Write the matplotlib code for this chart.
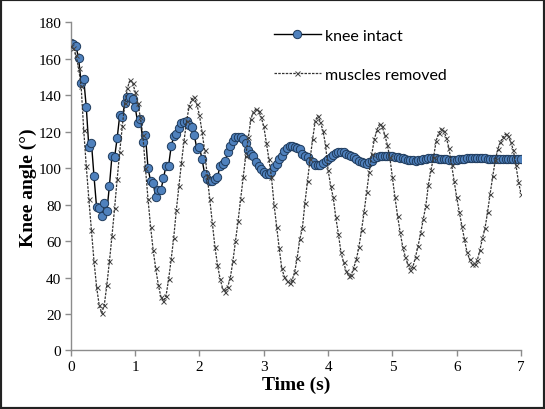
import numpy as np
import matplotlib.pyplot as plt
from matplotlib.patches import Rectangle

# sampling: one point every 0.04 s from 0 to 7 s
time_s = np.arange(176) * 0.04

knee_intact = [
    168.5, 168, 167, 160.5, 147, 149, 133.5, 111.5, 114, 95.6,
    78.6, 78, 74, 81, 76.4, 90.5, 107, 106, 116.5, 129,
    128, 135.7, 139, 139, 138, 133.5, 125, 127, 114.6, 118,
    100, 93, 92, 84, 88, 88, 94.5, 101.5, 101.5, 112,
    117.5, 119, 122, 125, 125.5, 126, 124, 122.5, 118, 110.6,
    111.5, 105, 97, 94, 93.2, 93, 94, 95, 101.4, 102.4,
    104, 108.8, 112.4, 115, 117.3, 117.3, 117.3, 116, 114, 110,
    107.8, 107, 103.3, 101.5, 99.6, 97.8, 96.9, 97, 97.8, 100.5,
    102.4, 105, 107, 109.7, 111, 112, 112.4, 111.5, 111, 110.6,
    108, 107, 106, 104, 103.3, 102, 101.8, 102, 102.8, 104,
    105, 106, 107.5, 108.5, 108.8, 109, 108.8, 108, 107.5, 107,
    106, 105, 104, 103.3, 102.8, 102.6, 103.5, 104.2, 105.5, 106,
    106.5, 106.6, 106.8, 107, 107, 106.5, 106, 106, 105.7, 105.5,
    105, 104.8, 104.7, 104.5, 104.2, 104.5, 104.8, 105.1, 105.3, 105.5,
    105.7, 105.7, 105.5, 105.3, 105.1, 105, 104.9, 104.7, 104.6, 104.6,
    104.8, 105, 105.1, 105.3, 105.5, 105.6, 105.7, 105.6, 105.5, 105.5,
    105.5, 105.4, 105.3, 105.2, 105.1, 105.1, 105.1, 105.1, 105, 105,
    105, 105.1, 105.1, 105.1, 105.1, 105.1,
]

muscles_removed = [
    167, 166, 162, 155, 145, 121, 101, 83, 66, 49,
    35, 25, 20.5, 25, 36, 49, 63, 78, 94, 109,
    123, 136, 144, 148.5, 147, 142, 136, 128, 118, 100,
    83, 68, 55, 45, 36, 29.5, 27.2, 30, 39, 50,
    62, 77, 90, 103, 115, 126, 134, 138, 139, 135,
    129, 120, 110, 96, 83, 70, 57, 47, 39.5, 34,
    32.3, 35, 40, 49, 60, 71, 83, 95, 107, 117,
    127, 131, 132.5, 131.6, 128, 123, 114, 105, 95, 80,
    68, 56, 45, 40.5, 38.3, 37, 38.5, 43, 51, 61,
    67, 81, 93, 105, 116, 126, 128.9, 125.5, 120.6, 113,
    99, 90.5, 84, 73, 64, 54, 48.5, 43.5, 41, 41.5,
    45.5, 50, 57, 66, 76, 87, 98, 108, 116, 121,
    124.3, 123, 118.5, 113, 106, 95, 84, 74, 65, 57,
    51.5, 47.5, 44.3, 46, 51.5, 57.5, 64.5, 72, 79.5, 91,
    99, 106, 115, 119.5, 121.6, 120.5, 116.5, 111, 102, 93,
    84, 76, 68.5, 61, 54, 50, 47.2, 47.5, 49.5, 55,
    61.5, 67, 76, 86, 95.5, 104.5, 110.5, 114.5, 117, 118.8,
    117.8, 114.5, 110, 102, 92.5, 86,
]

x_ticks = list(range(0, 8))
y_ticks = list(range(0, 181, 20))

fig = plt.figure(figsize=(5.45, 4.1), dpi=100)
ax = fig.add_axes([0.130, 0.1427, 0.826, 0.80])

ax.plot(time_s, knee_intact, color='black', lw=1.0, marker='o', markersize=6,
        markerfacecolor='#4f81bd', markeredgecolor='#1f3b5c', markeredgewidth=0.7,
        label='knee intact', zorder=2)
ax.plot(time_s, muscles_removed, color='#333333', lw=0.9, linestyle=(0, (2, 1)),
        marker='x', markersize=3.6, markeredgecolor='#444444', markeredgewidth=0.7,
        label='muscles removed', zorder=3)

ax.set_xlim(0, 7)
ax.set_ylim(0, 180)
ax.set_xticks(x_ticks)
ax.set_yticks(y_ticks)

for side in ['top', 'right']:
    ax.spines[side].set_visible(False)
for side in ['left', 'bottom']:
    ax.spines[side].set_color('#8c8c8c')
    ax.spines[side].set_linewidth(1.0)
ax.tick_params(direction='out', length=4, width=1, color='#8c8c8c', pad=3)
for lab in ax.get_xticklabels() + ax.get_yticklabels():
    lab.set_fontfamily('Liberation Serif')
    lab.set_fontsize(11)

ax.set_xlabel('Time (s)', fontfamily='Liberation Serif', fontweight='bold',
              fontsize=14, labelpad=2)
ax.set_ylabel('Knee angle (°)', fontfamily='Liberation Serif', fontweight='bold',
              fontsize=14, labelpad=1)

leg = ax.legend(loc='upper left', bbox_to_anchor=(0.42, 1.025), frameon=False,
                prop={'family': 'Lato', 'size': 11.5}, labelspacing=1.55,
                handlelength=2.9, handletextpad=0.3)

# black frame around the whole picture
fig.patches.append(Rectangle((0, 0), 1, 1, transform=fig.transFigure, fill=False,
                             edgecolor='#222222', linewidth=3))

fig.savefig('out.png', dpi=100)
